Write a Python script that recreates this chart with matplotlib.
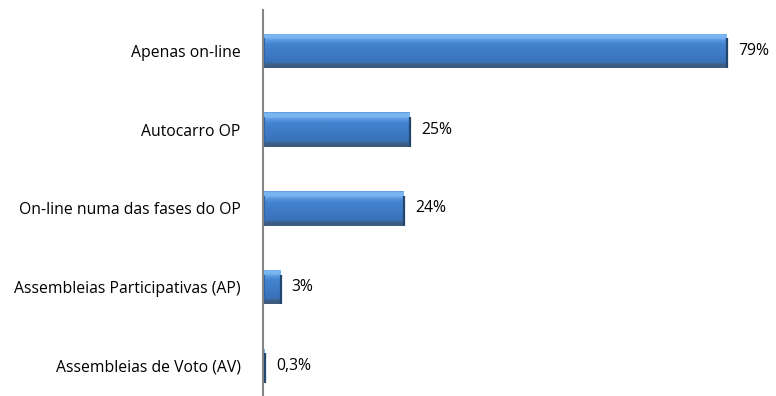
import matplotlib
matplotlib.use("Agg")
import matplotlib.pyplot as plt
import numpy as np
from matplotlib.colors import LinearSegmentedColormap

categories = ["Apenas on-line", "Autocarro OP", "On-line numa das fases do OP",
              "Assembleias Participativas (AP)", "Assembleias de Voto (AV)"]
values = [79, 25, 24, 3, 0.3]
value_labels = ["79%", "25%", "24%", "3%", "0,3%"]

plt.rcParams['font.family'] = ['Open Sans', 'DejaVu Sans']

W, H = 776, 396
fig = plt.figure(figsize=(W/100, H/100), dpi=100)
ax = fig.add_axes([263/W, 1/H, (W-263)/W, 385/H])

y = np.arange(len(categories))
bh = 0.44
bars = ax.barh(y, values, height=bh, color="#3f7cc6", edgecolor="none", zorder=2)

# vertical gradient (top -> bottom)
grad_cmap = LinearSegmentedColormap.from_list("bev", [
    (0.00, "#5b93d6"),
    (0.04, "#7bb8f4"),
    (0.14, "#78b4f0"),
    (0.20, "#5b9ae0"),
    (0.32, "#4383cf"),
    (0.70, "#3c76c0"),
    (0.86, "#3a6fb2"),
    (0.88, "#3d5f88"),
    (1.00, "#3e5a7c"),
])
grad = np.linspace(0, 1, 256).reshape(-1, 1)
for b in bars:
    x0, yb = b.get_x(), b.get_y()
    w, h = b.get_width(), b.get_height()
    im = ax.imshow(grad, cmap=grad_cmap, aspect="auto",
                   extent=[x0, x0 + w, yb + h, yb], zorder=3, interpolation="bilinear")
    im.set_clip_path(b)
    ax.plot([x0 + w, x0 + w], [yb + 0.06, yb + h], color="#23466f", lw=1.6, zorder=4,
            solid_capstyle="butt")
    if w > 1:
        ax.plot([x0 + 0.15, x0 + 0.15], [yb + 0.06, yb + h * 0.88], color="#2e63a8",
                lw=1.5, zorder=4, solid_capstyle="butt")

ax.set_xlim(0, (W - 263) / 5.87)
ax.set_ylim(4 + 0.37, -0.52)

for sp in ["top", "right", "bottom"]:
    ax.spines[sp].set_visible(False)
ax.spines["left"].set_color("#868686")
ax.spines["left"].set_linewidth(1.5)
ax.spines["left"].set_zorder(5)
ax.set_xticks([])
ax.set_yticks(y)
ax.set_yticklabels(categories, fontsize=11.3, color="#000000")
ax.tick_params(axis="y", length=0, pad=16)

for yi, v, lab in zip(y, values, value_labels):
    ax.annotate(lab, xy=(v, yi), xytext=(8, 0), textcoords="offset points",
                va="center", ha="left", fontsize=11.3, color="#000000")

fig.savefig("out.png", dpi=100)
